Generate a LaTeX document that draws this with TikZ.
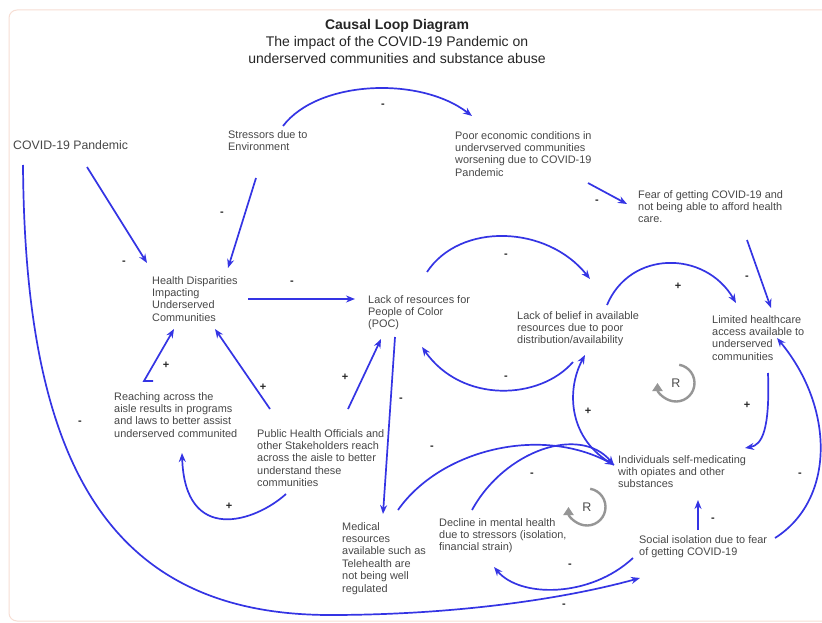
\documentclass[tikz,border=0pt]{standalone}
\usepackage{fontspec}
\setmainfont{Liberation Sans}
\usetikzlibrary{arrows.meta}
\definecolor{cblue}{RGB}{52,52,228}
\definecolor{ctext}{RGB}{72,72,72}
\definecolor{cframe}{RGB}{247,222,212}
\definecolor{cloop}{RGB}{150,150,150}
\begin{document}
\begin{tikzpicture}[x=1pt,y=-1pt,
  lbl/.style={anchor=north west, inner sep=0pt, align=left, text=ctext, font=\fontsize{10.9}{12.4}\selectfont},
  conn/.style={draw=cblue, line width=1.7pt, -{Stealth[length=9pt,width=7pt]}},
  sgn/.style={text=black!85, font=\fontsize{11}{11}\selectfont\bfseries, inner sep=0pt},
  loopsym/.style={draw=cloop, line width=2.4pt, -{Triangle[length=8pt,width=10pt]}},
  loopR/.style={text=black!70, font=\fontsize{12.5}{12.5}\selectfont, inner sep=0pt}
]
\useasboundingbox (0,0) rectangle (822,623);
\fill[white] (0,0) rectangle (822,623);
\draw[cframe, line width=1pt, rounded corners=8pt] (9,10) rectangle (880,621);

% title
\node[anchor=north, align=center, inner sep=0pt, text=black!85, font=\fontsize{14}{17}\selectfont] (title) at (397,19)
  {\textbf{Causal Loop Diagram}\\The impact of the COVID-19 Pandemic on\\underserved communities and substance abuse};

% variables
\node[lbl, font=\fontsize{12.3}{14}\selectfont] (covid) at (13,140) {COVID-19 Pandemic};
\node[lbl] (stress) at (228,130) {Stressors due to\\Environment};
\node[lbl] (poor) at (455,131) {Poor economic conditions in\\undervserved communities\\worsening due to COVID-19\\Pandemic};
\node[lbl] (fear) at (638,190) {Fear of getting COVID-19 and\\not being able to afford health\\care.};
\node[lbl] (hd) at (152,276) {Health Disparities\\Impacting\\Underserved\\Communities};
\node[lbl] (lr) at (368,295) {Lack of resources for\\People of Color\\(POC)};
\node[lbl] (lb) at (517,311) {Lack of belief in available\\resources due to poor\\distribution/availability};
\node[lbl] (lh) at (712,315) {Limited healthcare\\access available to\\underserved\\communities};
\node[lbl] (reach) at (114,392) {Reaching across the\\aisle results in programs\\and laws to better assist\\underserved communited};
\node[lbl] (pho) at (257,429) {Public Health Officials and\\other Stakeholders reach\\across the aisle to better\\understand these\\communities};
\node[lbl] (med) at (342,522) {Medical\\resources\\available such as\\Telehealth are\\not being well\\regulated};
\node[lbl] (ind) at (618,455) {Individuals self-medicating\\with opiates and other\\substances};
\node[lbl] (dec) at (439,518) {Decline in mental health\\due to stressors (isolation,\\financial strain)};
\node[lbl] (soc) at (639,535) {Social isolation due to fear\\of getting COVID-19};

% connector end points
\coordinate (stressR) at (283,126);  \coordinate (poorIn) at (472,116);
\coordinate (covidD) at (87,167);    \coordinate (hdInA) at (147,263);
\coordinate (stressD) at (256,178);  \coordinate (hdInB) at (228,268);
\coordinate (hdOut) at (248,299);    \coordinate (lrIn) at (355,299);
\coordinate (lrUp) at (427,272);     \coordinate (lbIn) at (590,279);
\coordinate (poorOut) at (588,183);  \coordinate (fearIn) at (627,204);
\coordinate (fearOut) at (747,240);  \coordinate (lhInA) at (771,308);
\coordinate (lbUp) at (607,305);     \coordinate (lhInB) at (736,303);
\coordinate (lbDown) at (573,362);   \coordinate (lrInB) at (422,347);
\coordinate (indOutA) at (614,465);  \coordinate (lbInB) at (585,355);
\coordinate (lhOut) at (768,373);    \coordinate (indInA) at (745,448);
\coordinate (socOutA) at (775,538);  \coordinate (lhInC) at (777,338);
\coordinate (socOutB) at (698,530);  \coordinate (indInB) at (698,500);
\coordinate (socOutC) at (633,558);  \coordinate (decIn) at (494,567);
\coordinate (covidDown) at (23,165); \coordinate (bottomPt) at (330,615); \coordinate (socIn) at (640,578);
\coordinate (phoOutA) at (270,409);  \coordinate (hdInC) at (215,329);
\coordinate (reachA) at (153,381);   \coordinate (reachB) at (144,381); \coordinate (hdInD) at (174,329);
\coordinate (phoOutB) at (348,409);  \coordinate (lrInC) at (381,339);
\coordinate (phoOutC) at (286,494);  \coordinate (reachIn) at (182,453);
\coordinate (lrDown) at (395,337);   \coordinate (medIn) at (383,514);
\coordinate (medOut) at (398,510);   \coordinate (indInC) at (614,465);
\coordinate (decOut) at (472,510);

% connectors
\draw[conn] (stressR) .. controls (318,80) and (420,76) .. (poorIn);
\draw[conn] (covidD) -- (hdInA);
\draw[conn] (stressD) -- (hdInB);
\draw[conn] (hdOut) -- (lrIn);
\draw[conn] (lrUp) .. controls (460,222) and (547,225) .. (lbIn);
\draw[conn] (poorOut) -- (fearIn);
\draw[conn] (fearOut) -- (lhInA);
\draw[conn] (lbUp) .. controls (630,250) and (705,250) .. (lhInB);
\draw[conn] (lbDown) .. controls (540,400) and (462,404) .. (lrInB);
\draw[conn] (indOutA) .. controls (568,440) and (566,390) .. (lbInB);
\draw[conn] (lhOut) .. controls (770,430) and (762,445) .. (indInA);
\draw[conn] (socOutA) .. controls (835,500) and (835,408) .. (lhInC);
\draw[conn] (socOutB) -- (indInB);
\draw[conn] (socOutC) .. controls (590,598) and (520,598) .. (decIn);
\draw[conn] (covidDown) .. controls (25,450) and (100,615) .. (bottomPt) .. controls (450,615) and (560,600) .. (socIn);
\draw[conn] (phoOutA) -- (hdInC);
\draw[conn] (reachA) -- (reachB) -- (hdInD);
\draw[conn] (phoOutB) -- (lrInC);
\draw[conn] (phoOutC) .. controls (255,522) and (185,545) .. (reachIn);
\draw[conn] (lrDown) -- (medIn);
\draw[conn] (medOut) .. controls (440,450) and (540,425) .. (indInC);
\draw[conn] (decOut) .. controls (505,450) and (580,425) .. (indInC);

% polarity signs
\node[sgn] (s1) at (383,106) {-};
\node[sgn] (s2) at (124,263) {-};
\node[sgn] (s3) at (222,214) {-};
\node[sgn] (s4) at (292,283) {-};
\node[sgn] (s5) at (506,256) {-};
\node[sgn] (s6) at (597,202) {-};
\node[sgn] (s7) at (747,278) {-};
\node[sgn] (s8) at (678,286) {+};
\node[sgn] (s9) at (506,378) {-};
\node[sgn] (s10) at (588,411) {+};
\node[sgn] (s11) at (747,405) {+};
\node[sgn] (s12) at (800,475) {-};
\node[sgn] (s13) at (713,520) {-};
\node[sgn] (s14) at (570,566) {-};
\node[sgn] (s15a) at (80,423) {-};
\node[sgn] (s15b) at (564,606) {-};
\node[sgn] (s16) at (263,387) {+};
\node[sgn] (s17) at (166,365) {+};
\node[sgn] (s18) at (345,377) {+};
\node[sgn] (s19) at (229,506) {+};
\node[sgn] (s20) at (401,400) {-};
\node[sgn] (s21) at (432,448) {-};
\node[sgn] (s22) at (532,475) {-};

% reinforcing loop markers
\node[loopR] (R1) at (676,383) {R};
\draw[loopsym] (R1.center) ++(-80:18.5) arc[start angle=-80, end angle=180, radius=18.5];
\node[loopR] (R2) at (587,507) {R};
\draw[loopsym] (R2.center) ++(-80:18.5) arc[start angle=-80, end angle=180, radius=18.5];
\end{tikzpicture}
\end{document}
